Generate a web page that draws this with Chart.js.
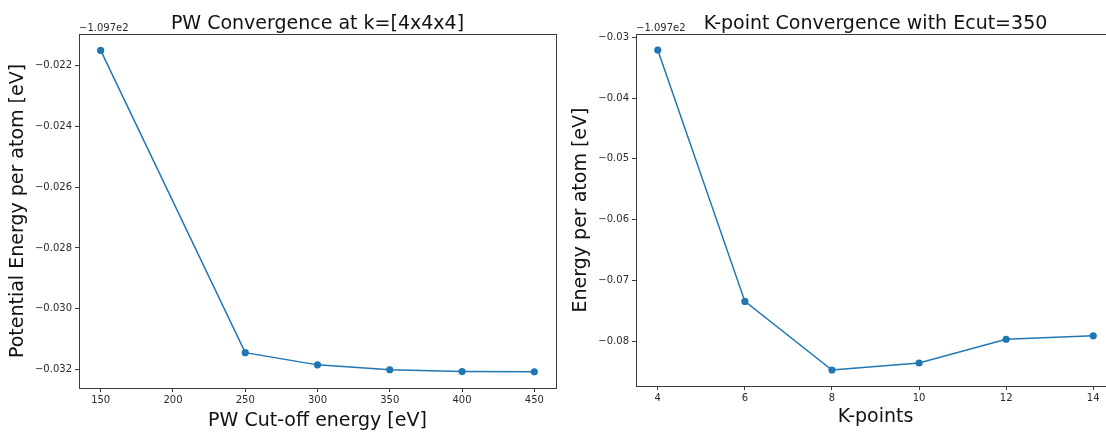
<!DOCTYPE html>
<html>
<head>
<meta charset="utf-8">
<script src="https://cdn.jsdelivr.net/npm/chart.js@4/dist/chart.umd.min.js"></script>
<style>
  html, body { margin: 0; padding: 0; background: #fff; overflow: hidden; width: 1106px; height: 432px; }
  .box { position: absolute; top: 0; height: 432px; }
  #b1 { left: 0; width: 560px; }
  #b2 { left: 560px; width: 560px; }
</style>
</head>
<body>
<div class="box" id="b1"><canvas id="c1"></canvas></div>
<div class="box" id="b2"><canvas id="c2"></canvas></div>
<script>
// ---- data (energies relative to the offset −1.097e2 eV) ----
const OFFSET_LABEL = '\u22121.097e2';
const pwCutoff = [150, 250, 300, 350, 400, 450];
const pwEnergy = [-0.02151, -0.03144, -0.03184, -0.03200, -0.03206, -0.03207];
const pwXTicks = [150, 200, 250, 300, 350, 400, 450];
const pwYTicks = [-0.032, -0.030, -0.028, -0.026, -0.024, -0.022];

const kPoints = [4, 6, 8, 10, 12, 14];
const kEnergy = [-0.0321, -0.07344, -0.08472, -0.08357, -0.07966, -0.0791];
const kXTicks = [4, 6, 8, 10, 12, 14];
const kYTicks = [-0.08, -0.07, -0.06, -0.05, -0.04, -0.03];

const titles = ['PW Convergence at k=[4x4x4]', 'K-point Convergence with Ecut=350'];
const xLabels = ['PW Cut-off energy [eV]', 'K-points'];
const yLabels = ['Potential Energy per atom [eV]', 'Energy per atom [eV]'];

const FONT = 'DejaVu Sans';
const C0 = '#1f77b4';
const SPINE = '#3a3a3a';
const TXT = '#2a2a2a';
const BIG = 19;

function fmt(v, d) {
  return v.toFixed(d).replace('-', '\u2212');
}

const framePlugin = {
  id: 'frame',
  afterDraw(chart) {
    const ctx = chart.ctx;
    const a = chart.chartArea;
    const o = chart.options.plugins.frame;
    ctx.save();
    ctx.strokeStyle = SPINE;
    ctx.lineWidth = 1;
    ctx.strokeRect(Math.round(a.left) + 0.5, Math.round(a.top) + 0.5,
                   Math.round(a.right - a.left), Math.round(a.bottom - a.top));
    ctx.fillStyle = '#111';
    ctx.font = BIG + 'px "' + FONT + '"';
    ctx.textAlign = 'center';
    ctx.textBaseline = 'alphabetic';
    ctx.fillText(o.title, (a.left + a.right) / 2, 29);
    ctx.fillStyle = TXT;
    ctx.font = '10px "' + FONT + '"';
    ctx.textAlign = 'left';
    ctx.fillText(OFFSET_LABEL, a.left, 31);
    ctx.restore();
  }
};

function makeChart(id, xs, ys, xTicks, yTicks, dec, xr, yr, cfg) {
  return new Chart(document.getElementById(id), {
    type: 'scatter',
    data: {
      datasets: [{
        data: xs.map((x, i) => ({ x: x, y: ys[i] })),
        showLine: true,
        borderColor: C0,
        backgroundColor: C0,
        borderWidth: 1.5,
        pointRadius: 3.6,
        pointHoverRadius: 3.6,
        pointBorderWidth: 0,
        tension: 0
      }]
    },
    options: {
      responsive: true,
      maintainAspectRatio: false,
      animation: false,
      layout: { padding: { top: 34, right: cfg.padRight, left: 0, bottom: 0 } },
      plugins: {
        legend: { display: false },
        tooltip: { enabled: false },
        title: { display: false },
        frame: { title: cfg.title }
      },
      scales: {
        x: {
          type: 'linear',
          min: xr[0], max: xr[1],
          afterBuildTicks: s => { s.ticks = xTicks.map(v => ({ value: v })); },
          afterFit: s => { s.height = cfg.xHeight; },
          ticks: {
            autoSkip: false, maxRotation: 0, padding: 2,
            color: TXT, font: { family: FONT, size: 10 },
            callback: v => String(v)
          },
          grid: { display: true, drawOnChartArea: false, drawTicks: true, tickLength: 4, color: SPINE, tickColor: SPINE },
          border: { display: true, color: SPINE, width: 1 },
          title: {
            display: true, text: cfg.xLabel, color: '#111',
            font: { family: FONT, size: BIG }, padding: { top: 0, bottom: cfg.xTitlePad }
          }
        },
        y: {
          type: 'linear',
          min: yr[0], max: yr[1],
          afterBuildTicks: s => { s.ticks = yTicks.map(v => ({ value: v })); },
          afterFit: s => { s.width = cfg.yWidth; },
          ticks: {
            autoSkip: false, padding: 3,
            color: TXT, font: { family: FONT, size: 10 },
            callback: v => fmt(v, dec)
          },
          grid: { display: true, drawOnChartArea: false, drawTicks: true, tickLength: 4, color: SPINE, tickColor: SPINE },
          border: { display: true, color: SPINE, width: 1 },
          title: {
            display: true, text: cfg.yLabel, color: '#111',
            font: { family: FONT, size: BIG }, padding: { top: cfg.yTitlePad, bottom: 0 }
          }
        }
      }
    },
    plugins: [framePlugin]
  });
}

makeChart('c1', pwCutoff, pwEnergy, pwXTicks, pwYTicks, 3, [135, 465], [-0.0326, -0.02097], {
  title: titles[0], xLabel: xLabels[0], yLabel: yLabels[0],
  padRight: 4, xHeight: 44, yWidth: 79, xTitlePad: 0, yTitlePad: 6.5
});
makeChart('c2', kPoints, kEnergy, kXTicks, kYTicks, 2, [3.5, 14.5], [-0.08735, -0.02947], {
  title: titles[1], xLabel: xLabels[1], yLabel: yLabels[1],
  padRight: 5, xHeight: 46, yWidth: 76, xTitlePad: 3.5, yTitlePad: 10
});
</script>
</body>
</html>
